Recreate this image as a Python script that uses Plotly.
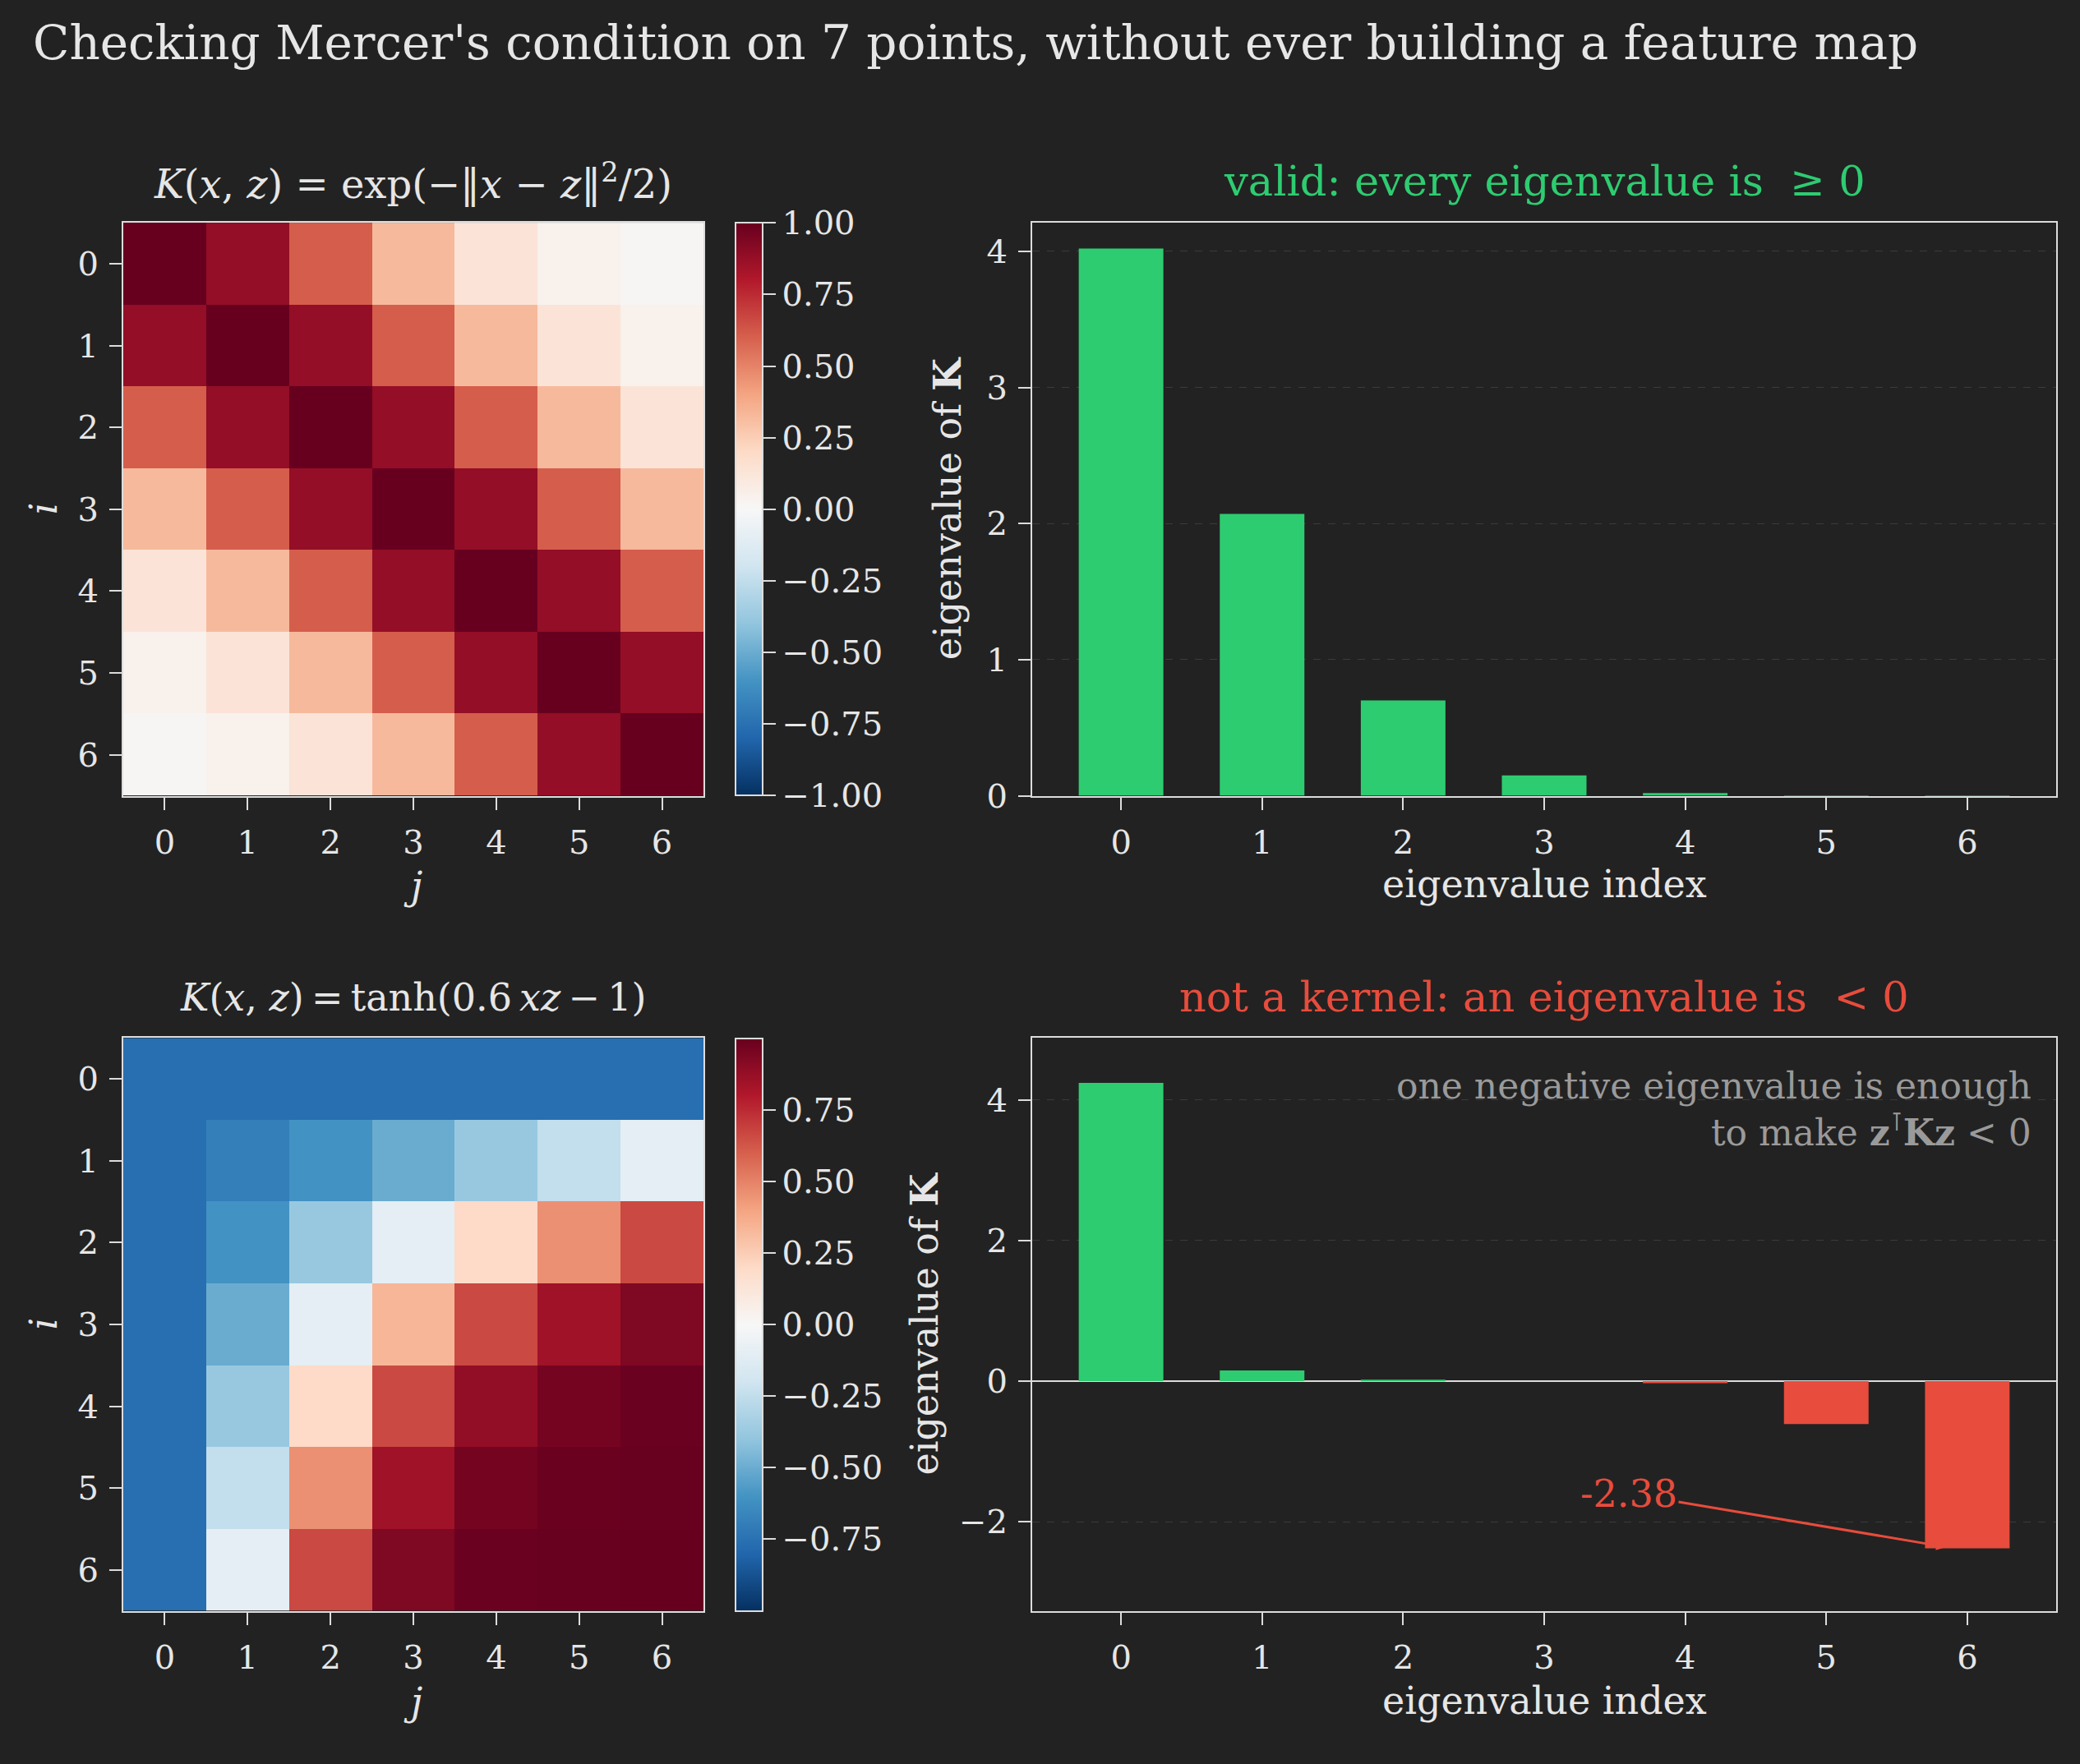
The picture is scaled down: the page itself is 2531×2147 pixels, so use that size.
import plotly.graph_objects as go
import plotly.express as px

# =============================================================================
# Data
# =============================================================================
idx = [0, 1, 2, 3, 4, 5, 6]

# RBF kernel matrix, exp(-|x-z|^2/2)
rbf_K = [
    [1.000, 0.882, 0.607, 0.325, 0.135, 0.044, 0.011],
    [0.882, 1.000, 0.882, 0.607, 0.325, 0.135, 0.044],
    [0.607, 0.882, 1.000, 0.882, 0.607, 0.325, 0.135],
    [0.325, 0.607, 0.882, 1.000, 0.882, 0.607, 0.325],
    [0.135, 0.325, 0.607, 0.882, 1.000, 0.882, 0.607],
    [0.044, 0.135, 0.325, 0.607, 0.882, 1.000, 0.882],
    [0.011, 0.044, 0.135, 0.325, 0.607, 0.882, 1.000],
]

# tanh "kernel" matrix, tanh(0.6 xz - 1)
tanh_K = [
    [-0.762, -0.762, -0.762, -0.762, -0.762, -0.762, -0.762],
    [-0.762, -0.691, -0.604, -0.501, -0.380, -0.245, -0.100],
    [-0.762, -0.604, -0.380, -0.100, 0.197, 0.462, 0.664],
    [-0.762, -0.501, -0.100, 0.336, 0.664, 0.848, 0.935],
    [-0.762, -0.380, 0.197, 0.664, 0.885, 0.964, 0.989],
    [-0.762, -0.245, 0.462, 0.848, 0.964, 0.992, 0.998],
    [-0.762, -0.100, 0.664, 0.935, 0.989, 0.998, 1.000],
]

rbf_eig = [4.02, 2.07, 0.70, 0.15, 0.02, 0.001, 0.00002]
tanh_eig = [4.24, 0.15, 0.01, 0.0, -0.03, -0.61, -2.38]

cbar1_ticks = [-1.0, -0.75, -0.5, -0.25, 0.0, 0.25, 0.5, 0.75, 1.0]
cbar2_ticks = [-0.75, -0.5, -0.25, 0.0, 0.25, 0.5, 0.75]

# =============================================================================
# Style
# =============================================================================
W, H = 2531, 2147
BG = "#222222"
FG = "#e6e6e6"
SPINE = "#dcdcdc"
GRID = "#3b3b3b"
GREEN = "#2ecc71"
RED = "#e74c3c"
NOTE = "#9a9a9a"
FONT = "DejaVu Serif"
TICK = 40
LABEL = 46
TITLE = 51

def px_x(p):
    return p / W

def px_y(p):
    return 1 - p / H

# plot boxes in pixels (left, right, top, bottom)
hm_x = [px_x(150), px_x(856)]
bar_x = [px_x(1256), px_x(2502)]
top_y = [px_y(979), px_y(274)]
bot_y = [px_y(1982), px_y(1277)]

RdBu_r = px.colors.diverging.RdBu_r
cscale = [[i / (len(RdBu_r) - 1), c] for i, c in enumerate(RdBu_r)]

fig = go.Figure()

def cbar(ticks, ydom):
    return dict(
        x=px_x(895), xanchor="left", xpad=0, ypad=0,
        y=(ydom[0] + ydom[1]) / 2, yanchor="middle",
        len=ydom[1] - ydom[0], lenmode="fraction",
        thickness=33, outlinewidth=2, outlinecolor=SPINE,
        tickvals=ticks, tickformat=".2f", tickprefix="\u00a0",
        ticks="outside", ticklen=15, tickwidth=2, tickcolor=SPINE,
        tickfont=dict(size=TICK, color=FG, family=FONT),
    )

fig.add_trace(go.Heatmap(z=rbf_K, x=idx, y=idx, colorscale=cscale,
                         zmin=-1, zmax=1, xaxis="x", yaxis="y",
                         colorbar=cbar(cbar1_ticks, top_y)))
vlim = max(abs(v) for row in tanh_K for v in row)
fig.add_trace(go.Heatmap(z=tanh_K, x=idx, y=idx, colorscale=cscale,
                         zmin=-vlim, zmax=vlim, xaxis="x3", yaxis="y3",
                         colorbar=cbar(cbar2_ticks, bot_y)))

fig.add_trace(go.Bar(x=idx, y=rbf_eig, width=0.6, xaxis="x2", yaxis="y2",
                     marker=dict(color=[GREEN if v >= 0 else RED for v in rbf_eig],
                                 line=dict(width=0))))
fig.add_trace(go.Bar(x=idx, y=tanh_eig, width=0.6, xaxis="x4", yaxis="y4",
                     marker=dict(color=[GREEN if v >= 0 else RED for v in tanh_eig],
                                 line=dict(width=0))))

ax_common = dict(showline=True, mirror=True, linecolor=SPINE, linewidth=2,
                 ticks="outside", ticklen=15, tickwidth=2, tickcolor=SPINE,
                 tickfont=dict(size=TICK, color=FG, family=FONT),
                 showgrid=False, zeroline=False, ticklabelstandoff=5)

fig.update_layout(
    width=W, height=H,
    paper_bgcolor=BG, plot_bgcolor=BG,
    margin=dict(l=0, r=0, t=0, b=0),
    showlegend=False,
    font=dict(family=FONT, color=FG),
    xaxis=dict(ax_common, domain=hm_x, anchor="y", range=[-0.5, 6.5], tickvals=idx),
    yaxis=dict(ax_common, domain=top_y, anchor="x", range=[6.5, -0.5], tickvals=idx),
    xaxis3=dict(ax_common, domain=hm_x, anchor="y3", range=[-0.5, 6.5], tickvals=idx),
    yaxis3=dict(ax_common, domain=bot_y, anchor="x3", range=[6.5, -0.5], tickvals=idx),
    xaxis2=dict(ax_common, domain=bar_x, anchor="y2", range=[-0.63, 6.63], tickvals=idx),
    yaxis2=dict(ax_common, domain=top_y, anchor="x2", range=[0, 4.21],
                tickvals=[0, 1, 2, 3, 4], showgrid=True, gridcolor=GRID,
                griddash="dash", gridwidth=1),
    xaxis4=dict(ax_common, domain=bar_x, anchor="y4", range=[-0.63, 6.63], tickvals=idx),
    yaxis4=dict(ax_common, domain=bot_y, anchor="x4", range=[-3.27, 4.88],
                tickvals=[-2, 0, 2, 4], showgrid=True, gridcolor=GRID,
                griddash="dash", gridwidth=1,
                zeroline=True, zerolinecolor=SPINE, zerolinewidth=2),
)

def label(text, x, y, size=LABEL, color=FG, angle=0, xanchor="center"):
    fig.add_annotation(text=text, x=px_x(x), y=px_y(y), xref="paper", yref="paper",
                       xanchor=xanchor, yanchor="middle", showarrow=False,
                       textangle=angle, font=dict(size=size, color=color, family=FONT))

# figure title
label("Checking Mercer's condition on 7 points, without ever building a feature map",
      38, 53, size=58, xanchor="left")

# panel titles (math set in serif italics)
label("<i>K</i>(<i>x</i>, <i>z</i>) = exp(−‖<i>x</i> − <i>z</i>‖<sup>2</sup>/2)", 502, 223, size=48)
label("valid: every eigenvalue is  ≥ 0", 1879, 223, size=TITLE, color=GREEN)
label("<i>K</i>(<i>x</i>, <i>z</i>)\u2009=\u2009tanh(0.6\u2009<i>xz</i>\u2009−\u20091)", 502, 1227, size=46)
label("not a kernel: an eigenvalue is  &lt; 0", 1879, 1227, size=TITLE, color=RED)

# axis labels
label("<i>j</i>", 502, 1090)
label("<i>j</i>", 502, 2093)
label("<i>i</i>", 53, 626, angle=-90)
label("<i>i</i>", 53, 1629, angle=-90)
label("eigenvalue index", 1879, 1088)
label("eigenvalue index", 1879, 2092)
label("eigenvalue of <b>K</b>", 1153, 626, angle=-90)
label("eigenvalue of <b>K</b>", 1125, 1629, angle=-90)

# note in the bottom-right panel
fig.add_annotation(text="one negative eigenvalue is enough<br>to make <b>z</b><sup>⊺</sup><b>Kz</b> &lt; 0",
                   x=px_x(2474), y=px_y(1308), xref="paper", yref="paper",
                   xanchor="right", yanchor="top", align="right", showarrow=False,
                   font=dict(size=44, color=NOTE, family=FONT))

# arrow to the most negative eigenvalue
fig.add_annotation(text=f"{min(tanh_eig):.2f}",
                   x=5.85, y=min(tanh_eig) + 0.02, xref="x4", yref="y4",
                   ax=3.6, ay=-1.6, axref="x4", ayref="y4",
                   showarrow=True, arrowhead=2, arrowsize=0.8, arrowwidth=3,
                   arrowcolor=RED, font=dict(size=46, color=RED, family=FONT))

# no page margin so the figure fills the window exactly
fig.write_html("out.html", config={"displayModeBar": False},
               post_script="document.documentElement.style.overflow='hidden';"
                           "document.documentElement.style.height='2147px';"
                           "document.body.style.margin='0';"
                           "document.body.style.height='2147px';"
                           "document.body.style.background='#222222';"
                           "document.body.style.overflow='hidden';")
